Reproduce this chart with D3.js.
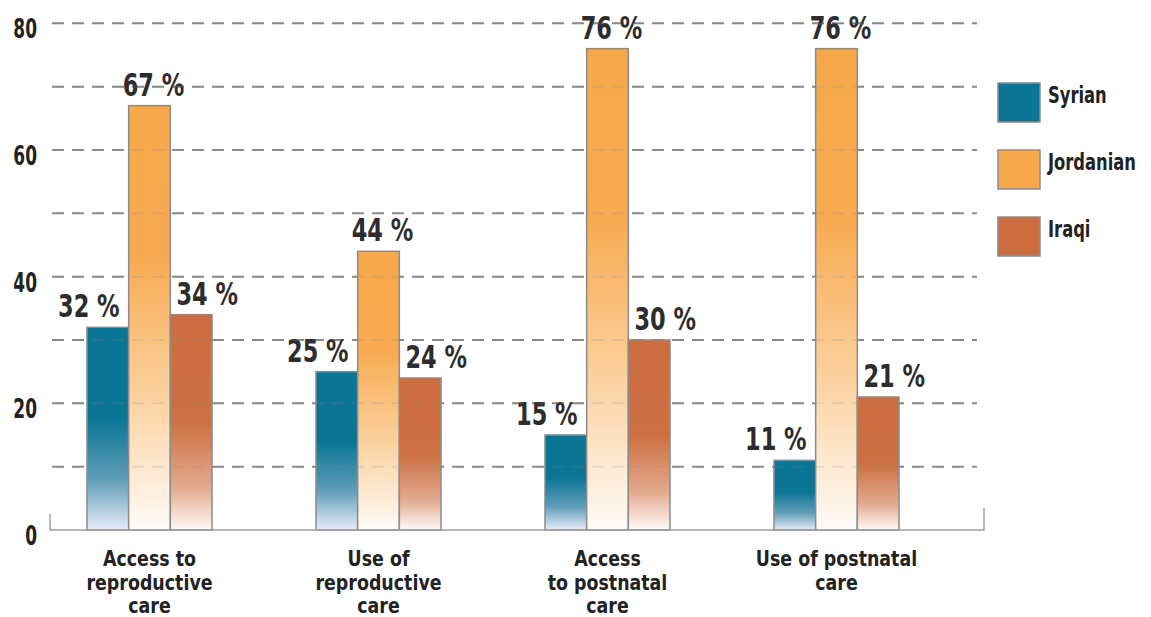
<!DOCTYPE html>
<html>
<head>
<meta charset="utf-8">
<script src="https://cdn.jsdelivr.net/npm/d3@7"></script>
<style>
  html, body { margin: 0; padding: 0; background: #ffffff; }
  svg { display: block; }
  text { font-family: "Liberation Sans Narrow", "Arial Narrow", "DejaVu Sans Condensed", sans-serif; font-weight: bold; }
</style>
</head>
<body>
<svg id="chart" width="1151" height="617"></svg>
<script>
// ---- data ----
const categories = [
  ["Access to", "reproductive", "care"],
  ["Use of", "reproductive", "care"],
  ["Access", "to postnatal", "care"],
  ["Use of postnatal", "care"]
];
const seriesNames = ["Syrian", "Jordanian", "Iraqi"];
const syrian    = [32, 25, 15, 11];
const jordanian = [67, 44, 76, 76];
const iraqi     = [34, 24, 30, 21];
const yTickLabels = [0, 20, 40, 60, 80];
const gridValues = [10, 20, 30, 40, 50, 60, 70, 80];

const seriesValues = [syrian, jordanian, iraqi];

// ---- styles ----
const solid = ["#0b7596", "#f6a84b", "#cc6d40"];
const gradStops = [
  [[0, "#0b7596"], [0.45, "#0b7596"], [0.75, "#5f9db8"], [1, "#e6ecf9"]],
  [[0, "#f6a84b"], [0.35, "#f7aa50"], [0.7, "#fcd3a3"], [1, "#fffbf7"]],
  [[0, "#cc6d40"], [0.5, "#cd7043"], [0.8, "#e2a98d"], [1, "#fff9f6"]]
];
const labelDx = [-19, 4, 16];

const svg = d3.select("#chart");
const defs = svg.append("defs");
gradStops.forEach((stops, i) => {
  const g = defs.append("linearGradient")
    .attr("id", "grad" + i).attr("x1", 0).attr("y1", 0).attr("x2", 0).attr("y2", 1);
  stops.forEach(s => g.append("stop").attr("offset", s[0]).attr("stop-color", s[1]));
});

// condensed text helper
function ctext(parent, x, y, str, size, anchor, sx) {
  const g = parent.append("g").attr("transform", `translate(${x},${y}) scale(${sx},1)`);
  return g.append("text").attr("x", 0).attr("y", 0)
    .attr("text-anchor", anchor).attr("font-size", size).text(str);
}

const y = d3.scaleLinear().domain([0, 80]).range([530, 23.3]);
const x0 = d3.scaleBand().domain(d3.range(categories.length)).range([35, 951])
  .paddingInner(0.454).paddingOuter(0.227);
const x1 = d3.scaleBand().domain(d3.range(seriesNames.length)).range([0, x0.bandwidth()]).padding(0);

// gridlines
function drawGrid(opacity) {
  svg.append("g").selectAll("line").data(gridValues).join("line")
    .attr("x1", 52).attr("x2", 977)
    .attr("y1", d => y(d)).attr("y2", d => y(d))
    .attr("stroke", "#8a8a8a").attr("stroke-width", 2)
    .attr("stroke-dasharray", "12,8")
    .attr("opacity", opacity);
}
drawGrid(1);

// y labels
const yAxisG = svg.append("g");
yTickLabels.forEach(d => {
  ctext(yAxisG, 37, y(d) + 15, d, 27, "end", 0.7).attr("fill", "#222");
});

// bars
const groups = svg.append("g").selectAll("g").data(categories).join("g")
  .attr("transform", (d, i) => `translate(${x0(i)},0)`);

groups.each(function(cat, ci) {
  const g = d3.select(this);
  seriesValues.forEach((vals, si) => {
    g.append("rect")
      .attr("x", x1(si)).attr("width", x1.bandwidth())
      .attr("y", y(vals[ci])).attr("height", y(0) - y(vals[ci]))
      .attr("fill", `url(#grad${si})`)
      .attr("stroke", "#8c8c8c").attr("stroke-width", 1.5);
  });
});

// faint grid over bars
drawGrid(0.18);

// value labels
groups.each(function(cat, ci) {
  const g = d3.select(this);
  seriesValues.forEach((vals, si) => {
    ctext(g, x1(si) + x1.bandwidth() / 2 + labelDx[si], y(vals[ci]) - 10,
          vals[ci] + " %", 32, "middle", 0.78).attr("fill", "#2d2d2d");
  });
});

// baseline
svg.append("path")
  .attr("d", `M50,${y(0) - 16}V${y(0)}H984V${y(0) - 22}`)
  .attr("fill", "none").attr("stroke", "#a0a0a0").attr("stroke-width", 1.5);

// category labels
groups.each(function(cat, ci) {
  const g = d3.select(this);
  cat.forEach((line, li) => {
    ctext(g, x0.bandwidth() / 2, 566 + li * 23.5, line, 22, "middle", 0.88).attr("fill", "#222");
  });
});

// legend
const leg = svg.append("g").selectAll("g").data(seriesNames).join("g")
  .attr("transform", (d, i) => `translate(998,${83 + i * 67})`);
leg.append("rect").attr("width", 42).attr("height", 39)
  .attr("fill", (d, i) => solid[i]).attr("stroke", "#8c8c8c").attr("stroke-width", 1.5);
leg.each(function(d) {
  ctext(d3.select(this), 50, 20, d, 23, "start", 0.79).attr("fill", "#222");
});
</script>
</body>
</html>
